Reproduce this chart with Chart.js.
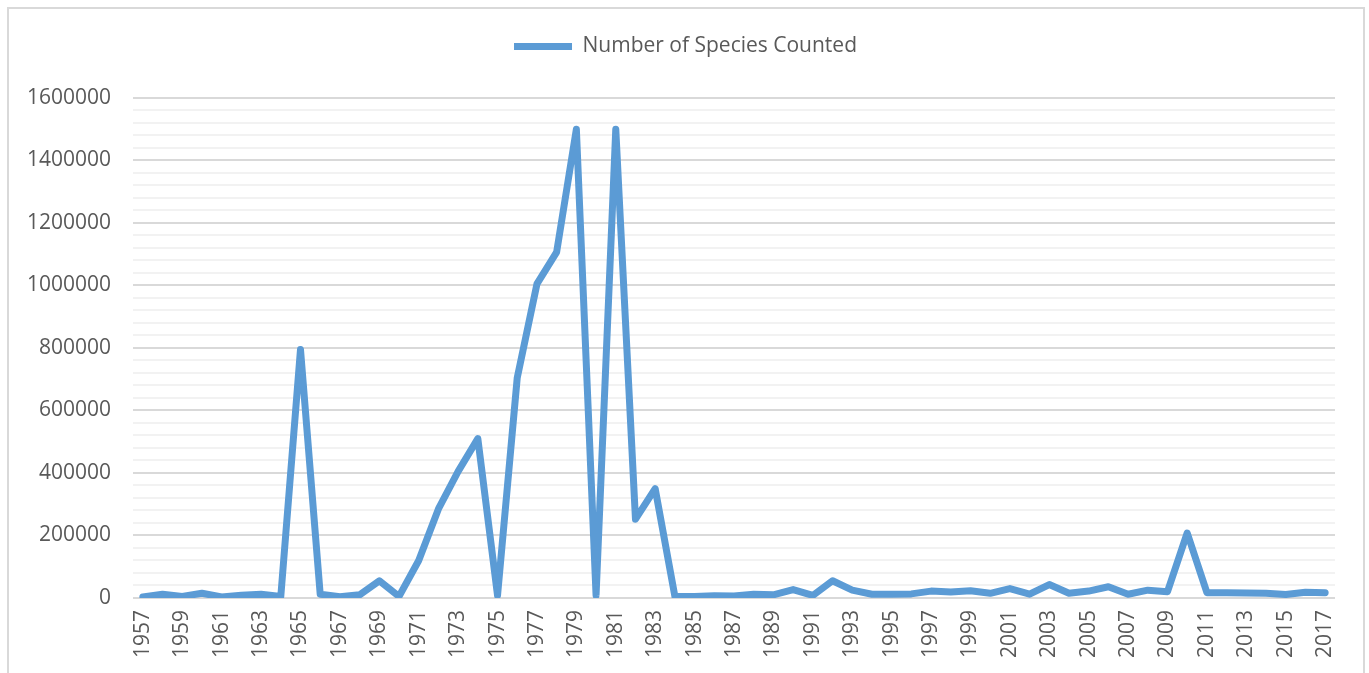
<!DOCTYPE html>
<html>
<head>
<meta charset="utf-8">
<script src="https://cdn.jsdelivr.net/npm/chart.js@4/dist/chart.umd.min.js"></script>
<style>
  html, body { margin: 0; padding: 0; background: #fff; }
  #wrap { width: 1369px; height: 673px; position: relative; }
</style>
</head>
<body>
<div id="wrap"><canvas id="speciesChart"></canvas></div>
<script>
const years = [];
for (let y = 1957; y <= 2017; y++) years.push(String(y));

// one value per year 1957..2017
const speciesCounted = [
    3000, 12000, 5000, 15000, 3000, 9000, 12000, 5000, 795000, 12000,
    4000, 10000, 55000, 5000, 120000, 285000, 405000, 510000, 8000, 705000,
    1005000, 1107000, 1500000, 8000, 1500000, 252000, 350000, 5000, 5000, 7000,
    6000, 12000, 10000, 27000, 8000, 55000, 25000, 12000, 12000, 13000,
    22000, 19000, 23000, 15000, 30000, 12000, 43000, 15000, 22000, 36000,
    12000, 25000, 20000, 208000, 17000, 17000, 16000, 15000, 11000, 18000,
    17000
];

const seriesName = 'Number of Species Counted';
const yMax = 1600000;
const yMinorStep = 40000;
const yMajorStep = 200000;

const textGrey = '#595959';
const fontFamily = "'Open Sans', 'Liberation Sans', sans-serif";

// light frame round the whole chart, like the spreadsheet chart area
const framePlugin = {
    id: 'frame',
    beforeDraw(chart) {
        const ctx = chart.ctx;
        ctx.save();
        ctx.strokeStyle = '#D9D9D9';
        ctx.lineWidth = 2;
        ctx.strokeRect(8, 8, 1356, 700);
        ctx.restore();
    }
};

// make room above the plot like the original, and centre legend on the page
const legendHeightPlugin = {
    id: 'legendHeight',
    beforeInit(chart) {
        const origFit = chart.legend.fit;
        chart.legend.fit = function () {
            origFit.bind(chart.legend)();
            this.height = 88;
        };
    },
    afterLayout(chart) {
        chart.legend.left += 18;
        chart.legend.right += 18;
    }
};

const config = {
    type: 'line',
    data: {
        labels: years,
        datasets: [{
            label: seriesName,
            data: speciesCounted,
            borderColor: '#5B9BD5',
            backgroundColor: '#5B9BD5',
            borderWidth: 7,
            borderCapStyle: 'round',
            borderJoinStyle: 'round',
            pointRadius: 0,
            tension: 0,
            fill: false
        }]
    },
    options: {
        responsive: true,
        maintainAspectRatio: false,
        animation: false,
        layout: {
            padding: { top: 10, left: 0, right: 34, bottom: 11 }
        },
        plugins: {
            legend: {
                position: 'top',
                labels: {
                    color: textGrey,
                    font: { family: fontFamily, size: 21 },
                    usePointStyle: true,
                    pointStyle: 'line',
                    pointStyleWidth: 58,
                    padding: 26
                }
            },
            tooltip: { enabled: false }
        },
        scales: {
            x: {
                offset: true,
                grid: { display: false },
                border: { display: false },
                ticks: {
                    autoSkip: false,
                    minRotation: 90,
                    maxRotation: 90,
                    color: textGrey,
                    font: { family: fontFamily, size: 21 },
                    padding: 4,
                    callback: function (val, i) {
                        return i % 2 === 0 ? this.getLabelForValue(val) : '';
                    }
                }
            },
            y: {
                min: 0,
                max: yMax,
                border: { display: false },
                grid: {
                    drawTicks: false,
                    color: (c) => (c.tick && c.tick.value % yMajorStep === 0) ? '#D9D9D9' : '#F2F2F2',
                    lineWidth: 2
                },
                ticks: {
                    stepSize: yMinorStep,
                    autoSkip: false,
                    color: textGrey,
                    font: { family: fontFamily, size: 21 },
                    padding: 22,
                    callback: (v) => v % yMajorStep === 0 ? String(v) : ''
                },
                afterFit(scale) {
                    scale.width = 133;
                }
            }
        }
    },
    plugins: [framePlugin, legendHeightPlugin]
};

const speciesChart = new Chart(document.getElementById('speciesChart'), config);
</script>
</body>
</html>
